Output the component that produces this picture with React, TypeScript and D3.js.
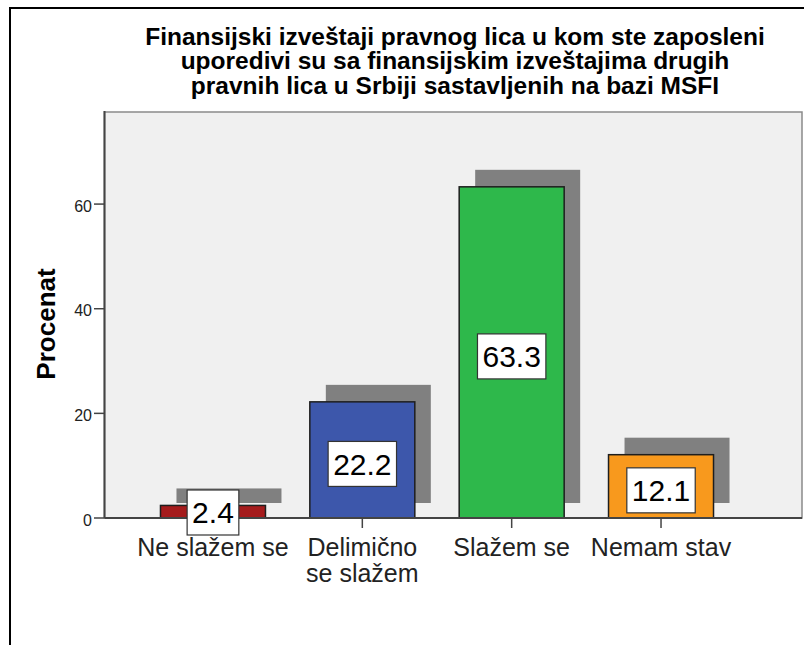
import React, { useEffect, useRef } from "react";
import * as d3 from "d3";

const titleLines = [
  "Finansijski izveštaji pravnog lica u kom ste zaposleni",
  "uporedivi su sa finansijskim izveštajima drugih",
  "pravnih lica u Srbiji sastavljenih na bazi MSFI",
];
const categories = ["Ne slažem se", "Delimično se slažem", "Slažem se", "Nemam stav"];
const categoryLabelLines = [["Ne slažem se"], ["Delimično", "se slažem"], ["Slažem se"], ["Nemam stav"]];
const values = [2.4, 22.2, 63.3, 12.1];
const barColors = ["#a51b1c", "#3d57ab", "#2eb84b", "#f8991d"];
const yTicks = [0, 20, 40, 60];
const yTitle = "Procenat";

const W = 804;
const H = 645;
const FONT = "'Liberation Sans', Arial, sans-serif";

export default function App() {
  const ref = useRef<SVGSVGElement | null>(null);

  useEffect(() => {
    const svg = d3.select(ref.current);
    svg.selectAll("*").remove();

    const left = 104.5, right = 802, top = 112, bottom = 518;

    const y = d3.scaleLinear().domain([0, 77.6]).range([bottom, top]);
    const x = d3
      .scaleBand<string>()
      .domain(categories)
      .range([138.3, 735.7])
      .paddingInner(0.297)
      .paddingOuter(0.1485);

    // outer frame
    svg.append("rect")
      .attr("x", 10).attr("y", 8)
      .attr("width", 820).attr("height", 680)
      .attr("fill", "#ffffff").attr("stroke", "#000").attr("stroke-width", 2);

    // title
    const tt = svg.append("text")
      .attr("font-family", FONT).attr("font-weight", "bold")
      .attr("font-size", 24.5).attr("text-anchor", "middle").attr("fill", "#000");
    titleLines.forEach((l, i) => {
      tt.append("tspan").attr("x", 455).attr("y", 45 + i * 24.3).text(l);
    });

    // plot background
    svg.append("rect")
      .attr("x", left).attr("y", top)
      .attr("width", right - left).attr("height", bottom - top)
      .attr("fill", "#f0f0f0").attr("stroke", "#8a8a8a").attr("stroke-width", 1.5);

    // shadows
    const dx = 16;
    svg.append("g").selectAll("rect").data(values).join("rect")
      .attr("x", (_, i) => (x(categories[i]) as number) + dx)
      .attr("y", (d) => y(d) - 17)
      .attr("width", x.bandwidth())
      .attr("height", (d) => bottom - 15 - (y(d) - 17))
      .attr("fill", "#808080");

    // bars
    svg.append("g").selectAll("rect").data(values).join("rect")
      .attr("x", (_, i) => x(categories[i]) as number)
      .attr("y", (d) => y(d))
      .attr("width", x.bandwidth())
      .attr("height", (d) => bottom - y(d))
      .attr("fill", (_, i) => barColors[i])
      .attr("stroke", "#1e1e1e").attr("stroke-width", 1.5);

    // axes lines
    svg.append("line").attr("x1", left).attr("x2", left).attr("y1", top - 1).attr("y2", bottom)
      .attr("stroke", "#444").attr("stroke-width", 2);
    svg.append("line").attr("x1", left).attr("x2", right).attr("y1", bottom).attr("y2", bottom)
      .attr("stroke", "#444").attr("stroke-width", 2);

    // y ticks
    const yt = svg.append("g");
    yTicks.forEach((t) => {
      yt.append("line").attr("x1", 94).attr("x2", left).attr("y1", y(t)).attr("y2", y(t))
        .attr("stroke", "#444").attr("stroke-width", 1.5);
      yt.append("text").attr("x", 92).attr("y", y(t) + 2).attr("dy", "0.35em")
        .attr("text-anchor", "end").attr("font-family", FONT).attr("font-size", 16)
        .attr("fill", "#222").text(String(t));
    });

    // y title
    svg.append("text")
      .attr("transform", `translate(55, ${(top + bottom) / 2 + 9}) rotate(-90)`)
      .attr("text-anchor", "middle").attr("font-family", FONT)
      .attr("font-weight", "bold").attr("font-size", 26).attr("fill", "#000")
      .text(yTitle);

    // x ticks and labels
    categories.forEach((c, i) => {
      const cx = (x(c) as number) + x.bandwidth() / 2;
      svg.append("line").attr("x1", cx).attr("x2", cx).attr("y1", bottom).attr("y2", bottom + 10)
        .attr("stroke", "#444").attr("stroke-width", 1.5);
      const t = svg.append("text").attr("text-anchor", "middle").attr("font-family", FONT)
        .attr("font-size", 25).attr("fill", "#222");
      categoryLabelLines[i].forEach((l, j) => {
        t.append("tspan").attr("x", cx).attr("y", 556 + j * 25.5).text(l);
      });
    });

    // value labels
    const bh = 45;
    values.forEach((v, i) => {
      const cx = (x(categories[i]) as number) + x.bandwidth() / 2;
      const cy = Math.min((y(v) + bottom) / 2 + 4, bottom + 17 - bh / 2);
      const g = svg.append("g");
      const rect = g.append("rect").attr("fill", "#fff").attr("stroke", "#333").attr("stroke-width", 1.2);
      const txt = g.append("text").attr("x", cx).attr("y", cy).attr("dy", "0.36em")
        .attr("text-anchor", "middle").attr("font-family", FONT).attr("font-size", 30)
        .attr("fill", "#000").text(v.toFixed(1));
      const w = (txt.node() as SVGTextElement).getComputedTextLength();
      const bw = w + 10;
      rect.attr("x", cx - bw / 2).attr("y", cy - bh / 2).attr("width", bw).attr("height", bh);
    });
  }, []);

  return (
    <svg
      ref={ref}
      width={W}
      height={H}
      style={{ position: "absolute", left: 0, top: 0, background: "#fff" }}
    />
  );
}
